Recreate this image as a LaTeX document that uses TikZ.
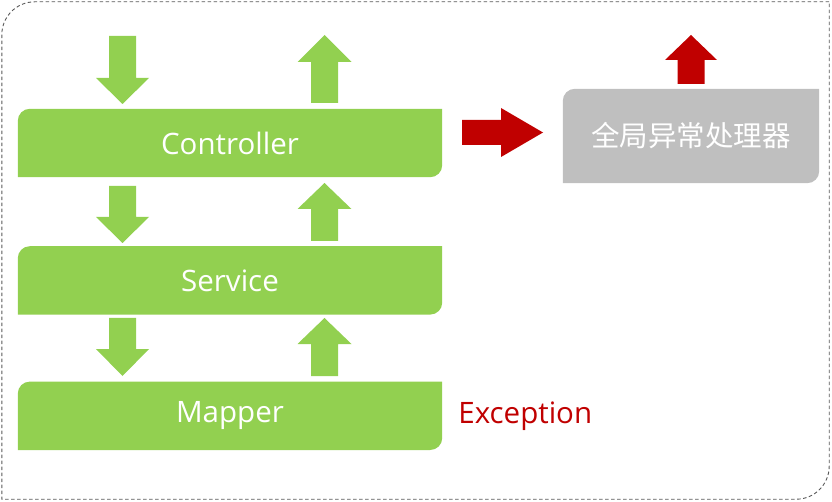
\documentclass[tikz,border=0pt]{standalone}
\usepackage{fontspec}
\setmainfont{Open Sans}
\newfontfamily\cjk{Noto Sans CJK SC}
\usepackage{tikz}
\usetikzlibrary{positioning, backgrounds}
\definecolor{vgreen}{HTML}{92D050}
\definecolor{vred}{HTML}{C00000}
\definecolor{vgray}{HTML}{BFBFBF}
\definecolor{vframe}{HTML}{595959}
\tikzset{
  layer/.style={rectangle, inner sep=0pt, minimum width=424pt, minimum height=68pt,
                text=white, font=\fontsize{29.5}{35}\selectfont},
  handler/.style={rectangle, inner sep=0pt, minimum width=256pt, minimum height=94pt,
                  text=white, font=\cjk\fontsize{28.5}{34}\selectfont},
  greenarr/.style={fill=vgreen},
  redarr/.style={fill=vred},
  pics/fatarrow/.style n args={4}{code={
    % length / head length / head width / shaft width
    \path[pic actions] (0,-#4/2) -- (#1-#2,-#4/2) -- (#1-#2,-#3/2) -- (#1,0)
      -- (#1-#2,#3/2) -- (#1-#2,#4/2) -- (0,#4/2) -- cycle;
  }}
}
% leaf shaped fill: round top-left and bottom-right corners
\newcommand{\leaffill}[3]{%
  \path[#2] (#1.north east) -- ([xshift=#3]#1.north west)
    arc[start angle=90, end angle=180, radius=#3] -- (#1.south west)
    -- ([xshift=-#3]#1.south east) arc[start angle=270, end angle=360, radius=#3] -- cycle;}

\begin{document}
\begin{tikzpicture}[x=1pt, y=-1pt]
  \useasboundingbox (0,0) rectangle (832,502);
  \node[rectangle, minimum width=827pt, minimum height=497pt, inner sep=0pt] (frame) at (415.5,250.5) {};
  \leaffill{frame}{draw=vframe, line width=0.9pt, dash pattern=on 3.5pt off 2.5pt}{33pt}

  \node[layer] (ctrl) at (230,143) {Controller};
  \node[layer, below=69pt of ctrl] (svc) {Service};
  \node[layer, below=67pt of svc] (mapper) {Mapper};
  \node[right=16pt of mapper, text=vred, font=\fontsize{29.5}{35}\selectfont, inner sep=0pt] (exc) {Exception};
  \node[handler] (geh) at (691,136) {全局异常处理器};

  \begin{scope}[on background layer]
    \leaffill{ctrl}{fill=vgreen}{12pt}
    \leaffill{svc}{fill=vgreen}{12pt}
    \leaffill{mapper}{fill=vgreen}{12pt}
    \leaffill{geh}{fill=vgray}{12pt}
  \end{scope}

  % request goes down, response comes back up
  \pic[greenarr, rotate=-90] (dn1) at (122.5,36) {fatarrow={68}{26}{53}{27}};
  \pic[greenarr, rotate=90] (up1) at (324.5,103) {fatarrow={68}{27}{54}{27}};
  \pic[greenarr, rotate=-90] (dn2) at (122.5,186) {fatarrow={57}{26}{53}{27}};
  \pic[greenarr, rotate=90] (up2) at (324.5,241) {fatarrow={58}{26}{54}{27}};
  \pic[greenarr, rotate=-90] (dn3) at (122.5,318) {fatarrow={58}{27}{53}{27}};
  \pic[greenarr, rotate=90] (up3) at (324.5,376) {fatarrow={58}{26}{54}{27}};
  % exception path
  \pic[redarr] (toh) at (462,132.5) {fatarrow={81}{42}{49}{25}};
  \pic[redarr, rotate=90] (outh) at (691,84) {fatarrow={49}{25}{52}{27}};
\end{tikzpicture}
\end{document}
